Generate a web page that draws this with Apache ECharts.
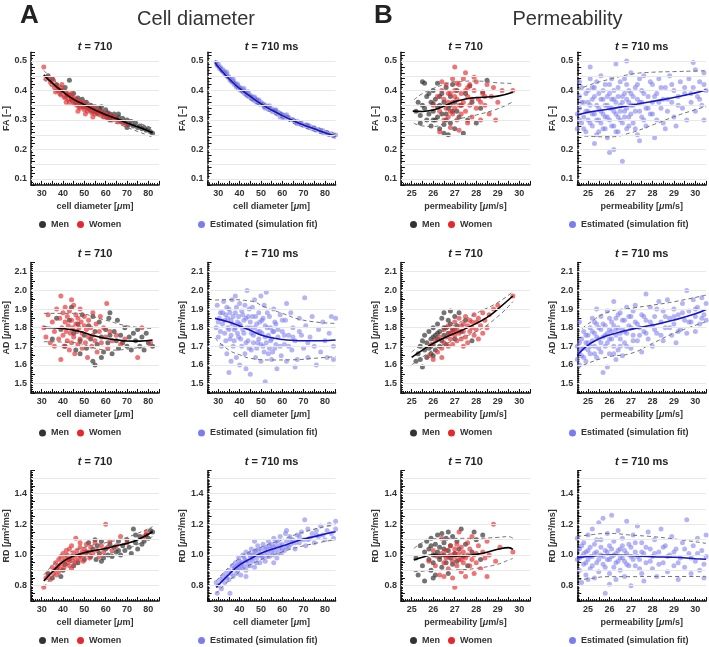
<!DOCTYPE html>
<html>
<head>
<meta charset="utf-8">
<script src="https://cdn.jsdelivr.net/npm/echarts/dist/echarts.min.js"></script>
<style>
html, body { margin: 0; padding: 0; background: #fff; }
#main { width: 709px; height: 647px; }
</style>
</head>
<body>
<div id="main"></div>
<script>
// ---------- FA vs cell diameter ----------
var fa_diam_men = [[33,0.45],[35,0.44],[37,0.42],[39,0.40],[41,0.41],[42,0.385],[43,0.435],[44,0.37],[45,0.39],[46,0.36],[47,0.375],[48,0.355],[49,0.37],[50,0.345],[51,0.36],[52,0.34],[53,0.35],[54,0.33],[55,0.345],[56,0.325],[57,0.34],[58,0.33],[59,0.32],[60,0.335],[60.5,0.31],[61,0.325],[62,0.32],[63,0.31],[64,0.32],[65,0.305],[66,0.31],[67,0.295],[68,0.305],[69,0.29],[70,0.30],[71,0.285],[72,0.295],[73,0.28],[74,0.29],[75,0.275],[76,0.28],[77,0.27],[78,0.275],[79,0.265],[80,0.27],[81,0.26],[82,0.255],[66,0.32],[62,0.30],[58,0.345],[70,0.275]];
var fa_diam_women = [[31,0.48],[32,0.44],[33,0.445],[34,0.43],[35,0.42],[35.5,0.435],[36,0.41],[37,0.415],[37.5,0.40],[38,0.405],[38.5,0.39],[39,0.41],[39,0.385],[40,0.40],[40.5,0.38],[41,0.395],[41,0.375],[42,0.39],[42.5,0.37],[43,0.385],[43,0.36],[44,0.38],[44.5,0.365],[45,0.375],[45,0.355],[46,0.37],[46.5,0.35],[47,0.365],[47.5,0.345],[48,0.36],[48,0.34],[49,0.355],[49.5,0.345],[50,0.36],[50,0.335],[51,0.35],[51.5,0.33],[52,0.345],[52.5,0.335],[53,0.34],[53.5,0.325],[54,0.345],[55,0.33],[55,0.32],[56,0.335],[56.5,0.32],[57,0.33],[58,0.315],[58.5,0.325],[59,0.31],[60,0.32],[61,0.305],[62,0.315],[63,0.30],[64,0.31],[65,0.30],[66,0.295],[68,0.29],[70,0.285],[44,0.39],[41.5,0.36],[47,0.33],[39.5,0.42],[36.5,0.395],[54,0.31],[50.5,0.32]];
var fa_diam_fit = [[31,0.453],[35,0.425],[40,0.395],[45,0.37],[50,0.352],[55,0.334],[60,0.318],[65,0.305],[70,0.29],[75,0.277],[82,0.257]];
var fa_diam_hi = [[31,0.468],[40,0.41],[50,0.367],[60,0.333],[70,0.305],[82,0.272]];
var fa_diam_lo = [[31,0.438],[40,0.38],[50,0.337],[60,0.303],[70,0.275],[82,0.242]];
var fa_diam_sim = [[29,0.495],[29.5,0.485],[30,0.49],[30.5,0.475],[31,0.48],[31.5,0.468],[32,0.472],[32.5,0.46],[33,0.465],[33.5,0.452],[34,0.455],[34.5,0.445],[35,0.447],[35.5,0.435],[36,0.44],[36.5,0.428],[37,0.432],[37.5,0.42],[38,0.425],[38.5,0.412],[39,0.418],[39.5,0.405],[40,0.412],[40.5,0.40],[41,0.406],[41.5,0.395],[42,0.40],[42.5,0.388],[43,0.394],[43.5,0.383],[44,0.39],[44.5,0.378],[45,0.384],[45.5,0.372],[46,0.379],[46.5,0.368],[47,0.374],[47.5,0.363],[48,0.37],[48.5,0.357],[49,0.365],[49.5,0.353],[50,0.36],[51,0.355],[51.5,0.345],[52,0.351],[53,0.347],[53.5,0.336],[54,0.342],[55,0.338],[55.5,0.328],[56,0.334],[57,0.331],[57.5,0.32],[58,0.326],[59,0.323],[60,0.319],[60.5,0.308],[61,0.316],[62,0.31],[63,0.309],[64,0.302],[65,0.302],[66,0.293],[67,0.296],[68,0.288],[69,0.29],[70,0.281],[71,0.284],[72,0.276],[73,0.279],[74,0.27],[75,0.274],[76,0.266],[77,0.269],[78,0.261],[79,0.264],[80,0.256],[81,0.258],[82,0.251],[83,0.253],[84,0.246],[85,0.249],[37,0.438],[42,0.408],[47,0.378],[52,0.34],[57,0.335],[62,0.318],[67,0.287],[72,0.283],[34,0.462],[39,0.422],[44,0.396],[49,0.368],[54,0.348],[59,0.31]];
var fa_diam_sim_fit = [[28.5,0.495],[30,0.48],[35,0.44],[40,0.407],[45,0.38],[50,0.355],[55,0.334],[60,0.315],[65,0.298],[70,0.283],[75,0.27],[80,0.257],[85,0.246]];
var fa_diam_sim_hi = [[28.5,0.503],[40,0.415],[50,0.363],[60,0.323],[70,0.291],[85,0.254]];
var fa_diam_sim_lo = [[28.5,0.487],[40,0.399],[50,0.347],[60,0.307],[70,0.275],[85,0.238]];

// ---------- FA vs permeability ----------
var fa_perm_men = [[25.2,0.33],[25.3,0.36],[25.4,0.29],[25.5,0.43],[25.6,0.34],[25.7,0.38],[25.7,0.30],[25.8,0.32],[25.9,0.36],[25.9,0.28],[26,0.40],[26,0.33],[26.1,0.30],[26.1,0.37],[26.2,0.425],[26.2,0.31],[26.3,0.35],[26.3,0.27],[26.4,0.39],[26.4,0.32],[26.5,0.255],[26.5,0.36],[26.6,0.30],[26.6,0.41],[26.7,0.34],[26.7,0.25],[26.8,0.38],[26.8,0.29],[26.9,0.33],[27,0.36],[27,0.27],[27.1,0.40],[27.2,0.31],[27.3,0.35],[27.4,0.255],[27.5,0.39],[27.6,0.30],[27.8,0.36],[28,0.29],[28.2,0.34],[28.5,0.435],[28.3,0.395],[25.6,0.425],[26.9,0.42],[27.7,0.415],[26.5,0.285],[25.4,0.315],[26.0,0.355],[25.8,0.39],[26.2,0.345],[26.6,0.32],[26.0,0.30],[25.5,0.35],[26.8,0.35],[27.1,0.33],[26.3,0.38]];
var fa_perm_women = [[26,0.35],[26.2,0.38],[26.3,0.33],[26.4,0.40],[26.5,0.30],[26.5,0.37],[26.6,0.34],[26.6,0.42],[26.7,0.36],[26.7,0.31],[26.8,0.39],[26.8,0.33],[26.9,0.44],[26.9,0.36],[27,0.48],[27,0.34],[27,0.40],[27.1,0.30],[27.1,0.37],[27.2,0.42],[27.2,0.35],[27.3,0.39],[27.3,0.32],[27.4,0.44],[27.4,0.36],[27.5,0.40],[27.5,0.33],[27.6,0.38],[27.6,0.29],[27.7,0.42],[27.7,0.35],[27.8,0.37],[27.8,0.31],[27.9,0.40],[28,0.34],[28,0.43],[28.1,0.37],[28.2,0.30],[28.3,0.39],[28.4,0.35],[28.5,0.42],[28.6,0.32],[28.7,0.38],[28.9,0.30],[29,0.36],[29.2,0.40],[29.7,0.40],[26.3,0.26],[27.2,0.265],[26.8,0.275],[27.9,0.445],[28.8,0.41],[26.4,0.43],[27.5,0.46],[27.0,0.38],[27.3,0.35],[26.9,0.32],[27.6,0.41],[28.2,0.36],[27.1,0.425],[26.7,0.39],[28.4,0.38]];
var fa_perm_fit = [[25.05,0.33],[25.5,0.329],[26,0.334],[26.5,0.347],[27,0.362],[27.5,0.371],[28,0.376],[28.5,0.378],[29,0.381],[29.7,0.394]];
var fa_perm_hi = [[25.1,0.368],[25.5,0.39],[26,0.407],[26.5,0.42],[27,0.43],[28,0.432],[29,0.426],[29.7,0.424]];
var fa_perm_lo = [[25.1,0.289],[25.5,0.28],[26,0.278],[26.5,0.287],[27,0.30],[28,0.317],[29,0.338],[29.7,0.362]];
var fa_perm_sim = [[24.5,0.32],[24.5,0.27],[24.6,0.38],[24.6,0.34],[24.7,0.29],[24.7,0.41],[24.8,0.31],[24.8,0.36],[24.9,0.26],[24.9,0.33],[25,0.40],[25,0.30],[25.1,0.35],[25.1,0.44],[25.2,0.28],[25.2,0.37],[25.3,0.32],[25.3,0.41],[25.4,0.25],[25.4,0.35],[25.5,0.30],[25.5,0.39],[25.6,0.45],[25.6,0.33],[25.7,0.27],[25.7,0.37],[25.8,0.31],[25.8,0.42],[25.9,0.35],[25.9,0.24],[26,0.39],[26,0.30],[26,0.19],[26.1,0.34],[26.1,0.44],[26.2,0.28],[26.2,0.37],[26.3,0.32],[26.3,0.49],[26.4,0.41],[26.4,0.26],[26.5,0.35],[26.5,0.30],[26.6,0.38],[26.6,0.16],[26.7,0.33],[26.7,0.44],[26.8,0.27],[26.8,0.37],[26.9,0.31],[26.9,0.40],[27,0.35],[27,0.46],[27.1,0.29],[27.1,0.38],[27.2,0.33],[27.3,0.42],[27.3,0.25],[27.4,0.36],[27.5,0.31],[27.5,0.40],[27.6,0.45],[27.7,0.34],[27.7,0.28],[27.8,0.38],[27.9,0.32],[28,0.42],[28,0.36],[28.1,0.24],[28.2,0.30],[28.2,0.39],[28.3,0.44],[28.4,0.34],[28.5,0.37],[28.5,0.29],[28.6,0.41],[28.7,0.33],[28.8,0.45],[28.9,0.36],[29,0.31],[29,0.40],[29.1,0.28],[29.2,0.38],[29.3,0.43],[29.4,0.34],[29.5,0.39],[29.6,0.30],[29.7,0.44],[29.8,0.36],[29.9,0.41],[30,0.33],[30,0.47],[30.1,0.38],[30.2,0.43],[30.3,0.35],[30.4,0.30],[30.4,0.46],[30.5,0.40],[24.6,0.43],[25.3,0.22],[26.2,0.20],[25.1,0.48],[26.8,0.50],[29.9,0.495],[27.4,0.23],[28.6,0.27],
  [24.6,0.30],[24.7,0.36],[24.8,0.27],[24.9,0.39],[25,0.33],[25,0.36],[25.1,0.29],[25.2,0.41],[25.2,0.32],[25.3,0.38],[25.4,0.30],[25.4,0.43],[25.5,0.34],[25.5,0.26],[25.6,0.37],[25.6,0.29],[25.7,0.40],[25.7,0.32],[25.8,0.35],[25.8,0.27],[25.9,0.38],[25.9,0.31],[26,0.42],[26,0.34],[26.1,0.28],[26.1,0.37],[26.2,0.40],[26.2,0.33],[26.3,0.36],[26.3,0.26],[26.4,0.38],[26.4,0.31],[26.5,0.43],[26.5,0.33],[26.6,0.29],[26.6,0.36],[26.7,0.39],[26.7,0.31],[26.8,0.34],[26.8,0.42],[26.9,0.28],[26.9,0.36],[27,0.32],[27,0.39],[27.1,0.35],[27.2,0.41],[27.2,0.27],[27.3,0.37],[27.4,0.33],[27.4,0.44],[27.5,0.36],[27.6,0.30],[27.6,0.39],[27.8,0.34],[27.9,0.43],[28,0.32],[28.1,0.38],[28.3,0.36],[28.4,0.41],[28.7,0.37],[28.9,0.42],[29.2,0.35],[29.5,0.41],[29.8,0.39],[30.2,0.37],[30.4,0.42]];
var fa_perm_sim_fit = [[24.5,0.317],[25,0.326],[26,0.337],[27,0.35],[28,0.363],[29,0.376],[30,0.392],[30.5,0.402]];
var fa_perm_sim_hi = [[24.5,0.40],[25,0.417],[26,0.438],[27,0.455],[28,0.462],[29,0.464],[30,0.466],[30.5,0.467]];
var fa_perm_sim_lo = [[24.5,0.249],[25,0.245],[26,0.243],[27,0.257],[28,0.283],[29,0.311],[30,0.335],[30.5,0.345]];

// ---------- AD vs cell diameter ----------
var ad_diam_men = [[35,1.74],[37,1.85],[39,1.79],[41,1.70],[43,1.84],[44,1.91],[45,1.77],[46,1.68],[47,1.82],[48,1.73],[49,1.87],[50,1.76],[51,1.69],[52,1.81],[53,1.74],[54,1.86],[55,1.60],[55,1.78],[56,1.71],[57,1.83],[58,1.75],[59,1.67],[60,1.79],[61,1.72],[61.5,1.85],[62,1.76],[63,1.66],[64,1.78],[65,1.73],[65.5,1.84],[66,1.69],[67,1.76],[68,1.72],[69,1.80],[70,1.70],[71,1.75],[72,1.68],[73,1.77],[74,1.73],[75,1.79],[76,1.70],[77,1.75],[78,1.68],[79,1.77],[80,1.72],[82,1.70],[58,1.64],[54,1.62],[62,1.88],[48,1.66]];
var ad_diam_women = [[31,1.80],[32,1.75],[33,1.87],[34,1.72],[35,1.83],[36,1.78],[37,1.90],[38,1.74],[38.5,1.85],[39,1.97],[39,1.63],[39.5,1.80],[40,1.76],[40,1.88],[40.5,1.70],[41,1.83],[41,1.91],[41.5,1.78],[42,1.73],[42,1.86],[42.5,1.81],[43,1.68],[43,1.89],[43.5,1.77],[44,1.84],[44,1.72],[44.5,1.80],[45,1.92],[45,1.75],[45.5,1.66],[46,1.82],[46,1.87],[46.5,1.78],[47,1.71],[47,1.85],[47.5,1.80],[48,1.74],[48,1.90],[48.5,1.83],[49,1.69],[49,1.77],[50,1.81],[50,1.86],[50.5,1.72],[51,1.79],[51.5,1.64],[52,1.84],[52,1.75],[53,1.80],[53.5,1.70],[54,1.88],[54,1.76],[55,1.73],[55.5,1.82],[56,1.67],[57,1.78],[57.5,1.86],[58,1.72],[59,1.80],[60,1.75],[60.5,1.93],[61,1.69],[62,1.78],[63,1.73],[65,1.76],[67,1.71],[69,1.74],[75,1.64],[77,1.80],[81,1.72],[36,1.70],[44,1.95]];
var ad_diam_fit = [[31,1.802],[35,1.80],[40,1.796],[45,1.787],[50,1.773],[55,1.755],[60,1.743],[65,1.735],[70,1.729],[76,1.728],[82,1.734]];
var ad_diam_hi = [[31,1.877],[45,1.877],[60,1.84],[70,1.81],[82,1.796]];
var ad_diam_lo = [[31,1.725],[45,1.72],[55,1.69],[62,1.68],[70,1.685],[82,1.707]];
var ad_diam_sim = [[29,1.80],[29.5,1.92],[30,1.75],[30.5,1.85],[31,1.88],[31.5,1.70],[32,1.82],[32.5,1.94],[33,1.77],[33.5,1.87],[34,1.66],[34.5,1.80],[35,1.90],[35,1.56],[35.5,1.74],[36,1.84],[36.5,1.95],[37,1.70],[37.5,1.79],[38,1.88],[38.5,1.64],[39,1.83],[39.5,1.75],[40,1.93],[40,1.60],[40.5,1.81],[41,1.70],[41.5,1.87],[42,1.77],[42.5,1.66],[43,1.85],[43.5,2.0],[44,1.73],[44.5,1.90],[45,1.80],[45,1.55],[45.5,1.68],[46,1.86],[46.5,1.76],[47,1.95],[47.5,1.64],[48,1.82],[48.5,1.72],[49,1.88],[49.5,1.78],[50,1.62],[50.5,1.84],[51,1.70],[51.5,1.92],[52,1.75],[52,1.51],[52.5,1.99],[53,1.80],[53.5,1.66],[54,1.86],[54.5,1.73],[55,1.63],[55.5,1.78],[56,1.90],[56.5,1.69],[57,1.82],[57.5,1.58],[58,1.75],[59,1.87],[59.5,1.65],[60,1.78],[61,1.71],[61.5,1.84],[62,1.62],[63,1.76],[64,1.88],[64.5,1.68],[65,1.80],[66,1.73],[67,1.63],[68,1.85],[69,1.76],[70,1.69],[70.5,1.96],[71,1.81],[72,1.64],[73,1.75],[74,1.86],[75,1.70],[76,1.60],[77,1.79],[78,1.67],[79,1.83],[80,1.73],[81,1.64],[82,1.77],[83,1.86],[84,1.70],[85,1.85],[84,1.63],[36,1.62],[43,1.58],[38,1.97],[50,1.97],[62,1.93],[66,1.59],
  [30,1.83],[31,1.78],[32,1.88],[33,1.84],[33.5,1.73],[34,1.91],[34.5,1.85],[35,1.79],[35.5,1.88],[36,1.76],[36.5,1.82],[37,1.86],[37.5,1.73],[38,1.80],[38.5,1.91],[39,1.77],[39.5,1.86],[40,1.82],[40.5,1.74],[41,1.89],[41.5,1.79],[42,1.84],[42.5,1.92],[43,1.72],[43.5,1.80],[44,1.86],[44.5,1.69],[45,1.83],[45.5,1.77],[46,1.91],[46.5,1.72],[47,1.80],[47.5,1.86],[48,1.69],[48.5,1.78],[49,1.74],[49.5,1.83],[50,1.71],[50.5,1.77],[51,1.85],[51.5,1.67],[52,1.81],[52.5,1.72],[53,1.88],[53.5,1.76],[54,1.69],[54.5,1.80],[55,1.74],[55.5,1.67],[56,1.78],[56.5,1.83],[57,1.71],[58,1.79],[59,1.70],[60,1.84],[61,1.76],[63,1.70],[65,1.75],[68,1.78],[72,1.72]];
var ad_diam_sim_fit = [[28.5,1.85],[35,1.83],[40,1.809],[45,1.786],[50,1.761],[55,1.746],[60,1.737],[65,1.732],[70,1.73],[78,1.73],[85,1.734]];
var ad_diam_sim_hi = [[28.5,1.948],[35,1.95],[45,1.943],[52,1.91],[60,1.877],[70,1.84],[85,1.823]];
var ad_diam_sim_lo = [[28.5,1.743],[35,1.68],[40,1.655],[45,1.636],[55,1.627],[65,1.628],[75,1.636],[85,1.645]];

// ---------- AD vs permeability ----------
var ad_perm_men = [[25.2,1.62],[25.3,1.66],[25.4,1.70],[25.5,1.59],[25.5,1.73],[25.6,1.68],[25.6,1.76],[25.7,1.64],[25.7,1.72],[25.8,1.78],[25.8,1.69],[25.9,1.74],[25.9,1.66],[26,1.80],[26,1.71],[26.1,1.76],[26.1,1.68],[26.2,1.74],[26.2,1.82],[26.3,1.70],[26.3,1.78],[26.4,1.85],[26.4,1.73],[26.5,1.76],[26.5,1.88],[26.6,1.80],[26.6,1.71],[26.7,1.84],[26.7,1.77],[26.8,1.89],[26.9,1.79],[27,1.86],[27,1.74],[27.1,1.81],[27.2,1.88],[27.3,1.78],[27.5,1.84],[27.8,1.73],[25.4,1.63],[26.0,1.65],[26.8,1.82],[25.9,1.70],[26.2,1.77],[26.5,1.80],[26.0,1.75]];
var ad_perm_women = [[25.8,1.65],[25.9,1.71],[26,1.63],[26.1,1.73],[26.2,1.67],[26.3,1.75],[26.4,1.69],[26.5,1.79],[26.5,1.72],[26.6,1.75],[26.7,1.70],[26.7,1.81],[26.8,1.74],[26.9,1.78],[26.9,1.71],[27,1.83],[27,1.76],[27.1,1.73],[27.1,1.79],[27.2,1.85],[27.2,1.77],[27.3,1.74],[27.3,1.81],[27.4,1.78],[27.5,1.86],[27.5,1.75],[27.6,1.81],[27.6,1.72],[27.7,1.84],[27.7,1.78],[27.8,1.80],[27.9,1.87],[27.9,1.76],[28,1.83],[28,1.79],[28.1,1.85],[28.2,1.81],[28.3,1.77],[28.3,1.88],[28.4,1.84],[28.5,1.80],[28.6,1.87],[28.8,1.90],[29,1.92],[29.7,1.97],[26.4,1.64],[27.4,1.70],[28.1,1.74],[27.0,1.79],[27.4,1.82],[26.8,1.77],[27.8,1.83]];
var ad_perm_fit = [[25,1.641],[25.5,1.68],[26,1.716],[26.5,1.745],[27,1.77],[27.5,1.795],[28,1.823],[28.5,1.855],[29,1.90],[29.7,1.97]];
var ad_perm_hi = [[25,1.67],[26,1.752],[27,1.814],[28,1.877],[29,1.935],[29.7,1.993]];
var ad_perm_lo = [[25,1.60],[26,1.68],[27,1.734],[28,1.779],[29,1.86],[29.7,1.94]];
var ad_perm_sim = [[24.5,1.63],[24.5,1.70],[24.6,1.60],[24.6,1.67],[24.7,1.74],[24.7,1.65],[24.8,1.69],[24.8,1.78],[24.9,1.62],[24.9,1.72],[25,1.68],[25,1.76],[25.1,1.80],[25.1,1.66],[25.2,1.73],[25.2,1.85],[25.3,1.70],[25.3,1.77],[25.4,1.64],[25.4,1.82],[25.5,1.74],[25.5,1.69],[25.6,1.79],[25.6,1.86],[25.7,1.56],[25.7,1.75],[25.8,1.81],[25.8,1.70],[25.9,1.77],[25.9,1.89],[26,1.66],[26,1.74],[26.1,1.83],[26.1,1.78],[26.2,1.70],[26.2,1.94],[26.3,1.76],[26.3,1.85],[26.4,1.68],[26.4,1.80],[26.5,1.74],[26.5,1.88],[26.6,1.79],[26.6,1.65],[26.7,1.84],[26.7,1.72],[26.8,1.91],[26.8,1.77],[26.9,1.81],[27,1.69],[27,1.86],[27.1,1.76],[27.2,1.83],[27.2,1.92],[27.3,1.73],[27.4,1.80],[27.5,1.87],[27.5,1.67],[27.6,1.78],[27.7,1.84],[27.8,1.74],[27.9,1.91],[28,1.81],[28,1.70],[28.1,1.86],[28.2,1.77],[28.3,1.94],[28.4,1.83],[28.5,1.73],[28.5,1.89],[28.6,1.80],[28.7,1.95],[28.8,1.85],[28.9,1.76],[29,1.90],[29,1.82],[29.1,1.72],[29.2,1.87],[29.3,1.79],[29.4,1.93],[29.5,1.84],[29.6,2.0],[29.6,1.77],[29.7,1.89],[29.8,1.83],[29.9,1.95],[30,1.86],[30,1.78],[30.1,1.91],[30.2,1.82],[30.3,1.96],[30.4,1.87],[30.5,1.93],[30.5,1.84],[25.9,1.59],[26.3,1.63],[27.7,1.98],[25.4,1.90],[24.6,1.83],
  [24.6,1.72],[24.7,1.69],[24.8,1.64],[24.9,1.76],[25,1.72],[25.1,1.70],[25.2,1.78],[25.3,1.66],[25.3,1.83],[25.4,1.75],[25.5,1.80],[25.6,1.72],[25.6,1.67],[25.7,1.82],[25.8,1.76],[25.9,1.72],[26,1.79],[26,1.85],[26.1,1.74],[26.2,1.81],[26.2,1.66],[26.3,1.79],[26.4,1.87],[26.5,1.77],[26.5,1.70],[26.6,1.84],[26.7,1.78],[26.8,1.70],[26.9,1.86],[27,1.80],[27.1,1.73],[27.1,1.89],[27.3,1.82],[27.4,1.76],[27.6,1.86],[27.7,1.77],[27.9,1.83],[28.1,1.79],[28.2,1.90],[28.4,1.76],[28.6,1.86],[28.8,1.80],[29,1.86],[29.2,1.78],[29.4,1.88],[29.7,1.83],[30,1.90],[30.3,1.85]];
var ad_perm_sim_fit = [[24.5,1.654],[25,1.707],[25.5,1.74],[26,1.761],[27,1.791],[28,1.814],[29,1.841],[30,1.875],[30.5,1.898]];
var ad_perm_sim_hi = [[24.5,1.77],[25,1.82],[26,1.886],[27,1.904],[28,1.921],[29,1.939],[30.5,1.975]];
var ad_perm_sim_lo = [[24.5,1.582],[25,1.61],[26,1.645],[27,1.662],[28,1.716],[29,1.77],[30.5,1.832]];

// ---------- RD vs cell diameter ----------
var rd_diam_men = [[33,0.88],[35,0.85],[37,0.91],[39,0.86],[40,0.90],[41,0.94],[43,0.97],[45,0.93],[47,0.95],[48,1.0],[50,0.97],[51,1.02],[52,1.08],[53,0.99],[54,1.04],[55,1.10],[55.5,0.97],[56,1.06],[57,1.01],[58,1.09],[59,0.98],[60,1.04],[61,1.0],[62,1.07],[63,0.99],[64,1.05],[65,1.02],[66,1.09],[67,1.0],[68,1.06],[69,1.03],[70,1.10],[71,1.05],[72,1.01],[73,1.17],[74,1.08],[75,1.04],[76,1.12],[77,1.07],[78,1.09],[79,1.13],[80,1.11],[81,1.16],[82,1.15],[66,1.03],[58,0.96],[74,1.13]];
var rd_diam_women = [[31,0.79],[32,0.85],[33,0.87],[34,0.84],[35,0.92],[35.5,0.88],[36,0.90],[36.5,0.95],[37,0.87],[37.5,0.93],[38,0.97],[38.5,0.91],[39,0.99],[39,0.94],[40,0.96],[40,1.01],[40.5,0.92],[41,0.98],[41.5,1.03],[42,0.95],[42,1.0],[42.5,0.97],[43,1.04],[43,0.93],[44,0.99],[44,1.06],[44.5,0.96],[45,1.01],[45.5,0.98],[46,1.11],[46,0.95],[46.5,1.03],[47,1.0],[47.5,0.97],[48,1.05],[48,1.08],[48.5,0.99],[49,1.02],[49.5,0.96],[50,1.04],[50.5,1.0],[51,1.07],[52,1.02],[52.5,0.98],[53,1.05],[54,1.01],[55,1.08],[56,1.03],[57,0.99],[58,1.06],[59,1.02],[60,1.20],[61,1.05],[62,1.09],[63,1.03],[65,1.06],[67,1.12],[70,1.08],[78,1.12],[79,1.15],[38,0.89],[44,0.91]];
var rd_diam_fit = [[31,0.83],[35,0.891],[40,0.957],[45,0.993],[50,1.015],[55,1.03],[60,1.043],[65,1.06],[70,1.076],[75,1.10],[82,1.152]];
var rd_diam_hi = [[31,0.87],[40,0.99],[50,1.05],[60,1.08],[70,1.115],[82,1.185]];
var rd_diam_lo = [[31,0.79],[40,0.92],[50,0.98],[60,1.005],[70,1.04],[82,1.12]];
var rd_diam_sim = [[29,0.82],[29.5,0.75],[30,0.80],[31,0.84],[31.5,0.78],[32,0.86],[33,0.82],[33.5,0.88],[34,0.85],[35,0.90],[35,0.84],[35.5,0.75],[36,0.88],[36.5,0.93],[37,0.86],[37.5,0.91],[38,0.95],[38.5,0.88],[39,0.93],[39.5,0.98],[40,0.91],[40,0.96],[40.5,0.87],[41,0.95],[41.5,1.0],[42,0.93],[42.5,0.97],[43,1.02],[43,0.90],[44,0.96],[44.5,1.01],[45,0.93],[45,0.98],[45.5,1.04],[46,0.96],[46.5,1.0],[47,0.92],[47.5,1.03],[48,0.98],[48.5,1.06],[49,1.0],[49.5,0.95],[50,1.04],[50.5,0.99],[51,1.07],[51.5,1.01],[52,0.96],[52.5,1.05],[53,1.02],[53.5,1.09],[54,0.99],[54.5,1.04],[55,1.07],[55.5,1.0],[56,1.11],[56.5,1.03],[57,1.06],[57.5,0.98],[58,1.09],[58.5,1.04],[59,1.12],[59.5,1.01],[60,1.07],[61,1.03],[61.5,1.14],[62,1.09],[63,1.05],[63.5,1.12],[64,1.07],[65,1.10],[66,1.04],[67,1.13],[68,1.08],[69,1.15],[70,1.10],[70.5,1.23],[71,1.06],[72,1.17],[73,1.11],[74,1.14],[75,1.08],[76,1.16],[77,1.12],[78,1.19],[79,1.13],[80,1.10],[81,1.16],[82,1.20],[83,1.14],[84,1.11],[85,1.22],[85,1.17],[56,0.95],[62,1.16],[47,1.09],[43,0.86],
  [38,0.92],[39,0.90],[40,0.94],[41,0.92],[42,0.99],[43,0.96],[44,0.93],[45,1.0],[46,0.98],[47,1.02],[48,0.95],[49,1.03],[50,1.0],[51,0.98],[52,1.04],[53,0.99],[54,1.06],[55,1.02],[56,1.05],[57,1.09],[58,1.01],[59,1.06],[60,1.04],[62,1.05],[64,1.10],[66,1.08],[68,1.12],[72,1.10],[76,1.13]];
var rd_diam_sim_fit = [[29,0.789],[35,0.874],[40,0.935],[45,0.975],[50,1.011],[55,1.037],[60,1.059],[65,1.082],[70,1.104],[75,1.12],[80,1.137],[85,1.152]];
var rd_diam_sim_hi = [[29,0.83],[40,0.98],[50,1.05],[60,1.10],[70,1.15],[85,1.20]];
var rd_diam_sim_lo = [[29,0.75],[40,0.89],[50,0.97],[60,1.02],[70,1.06],[85,1.10]];

// ---------- RD vs permeability ----------
var rd_perm_men = [[25.2,0.98],[25.4,1.06],[25.5,0.93],[25.6,1.02],[25.6,0.83],[25.7,1.09],[25.8,0.97],[25.8,1.04],[25.9,0.90],[25.9,1.11],[26,1.0],[26,0.95],[26.1,1.07],[26.1,0.87],[26.2,1.02],[26.2,1.13],[26.3,0.97],[26.3,1.05],[26.4,0.92],[26.4,1.14],[26.5,1.0],[26.5,1.08],[26.6,0.95],[26.6,1.11],[26.7,1.03],[26.7,0.88],[26.8,0.98],[26.8,1.06],[26.9,1.12],[26.9,0.94],[27,1.01],[27.1,1.09],[27.1,0.96],[27.2,1.04],[27.3,1.17],[27.4,0.99],[27.5,1.07],[27.6,0.93],[27.8,1.02],[28,1.10],[28.2,0.97],[28.3,1.13],[25.3,0.87],[26.0,0.85],[26.7,1.15],[27.9,1.15],[26.1,1.0],[26.5,1.04],[25.9,1.06],[26.3,0.99]];
var rd_perm_women = [[25.8,0.96],[26,1.03],[26.1,0.93],[26.2,0.99],[26.3,0.87],[26.4,1.01],[26.5,0.95],[26.5,0.86],[26.6,1.03],[26.6,0.98],[26.7,0.91],[26.8,1.06],[26.8,1.0],[26.9,0.85],[26.9,0.96],[27,1.04],[27,0.99],[27,0.79],[27.1,0.93],[27.1,1.07],[27.2,0.97],[27.2,1.01],[27.3,0.89],[27.3,1.05],[27.4,0.95],[27.4,1.02],[27.5,0.86],[27.5,0.98],[27.6,1.08],[27.6,1.0],[27.7,0.93],[27.7,1.04],[27.8,0.97],[27.8,1.12],[27.9,0.88],[28,1.01],[28,0.95],[28.1,1.06],[28.2,0.91],[28.3,1.02],[28.4,0.98],[28.5,1.09],[28.5,0.86],[28.6,1.0],[28.8,1.20],[28.9,0.96],[29.1,1.05],[29.7,1.02],[27.2,1.15],[26.4,1.11],[27.0,1.01],[27.3,0.97],[26.7,0.99],[27.9,1.0]];
var rd_perm_fit = [[25.1,0.967],[25.5,0.985],[26,1.0],[26.5,0.997],[27,0.993],[27.5,0.995],[28,1.004],[28.5,1.018],[29,1.037],[29.5,1.048],[29.7,1.037]];
var rd_perm_hi = [[25.1,1.043],[25.5,1.08],[26,1.105],[27,1.109],[28,1.109],[29,1.115],[29.5,1.12],[29.7,1.109]];
var rd_perm_lo = [[25.1,0.891],[26,0.898],[27,0.902],[28,0.913],[29,0.94],[29.5,0.967],[29.7,0.978]];
var rd_perm_sim = [[24.5,0.97],[24.5,1.11],[24.6,0.90],[24.6,1.04],[24.7,0.82],[24.7,0.99],[24.8,1.08],[24.8,0.94],[24.9,1.02],[24.9,0.87],[25,1.13],[25,0.97],[25.1,1.05],[25.1,0.91],[25.2,1.17],[25.2,0.99],[25.3,0.85],[25.3,1.07],[25.4,0.95],[25.4,1.02],[25.5,1.21],[25.5,0.89],[25.6,1.0],[25.6,1.10],[25.7,0.94],[25.7,1.24],[25.8,0.75],[25.8,1.03],[25.9,0.97],[25.9,1.14],[26,0.88],[26,1.06],[26.1,1.26],[26.1,0.99],[26.2,0.92],[26.2,1.09],[26.3,1.01],[26.3,0.84],[26.4,1.16],[26.4,0.96],[26.5,1.04],[26.5,0.90],[26.6,1.11],[26.6,0.98],[26.7,0.86],[26.7,1.03],[26.8,1.22],[26.8,0.94],[26.9,1.07],[27,0.99],[27,0.80],[27.1,1.13],[27.2,0.93],[27.2,1.02],[27.3,1.19],[27.4,0.97],[27.5,1.08],[27.5,0.88],[27.6,1.01],[27.7,0.95],[27.8,1.15],[27.9,1.04],[28,0.91],[28,0.99],[28.1,1.10],[28.2,0.86],[28.3,1.02],[28.4,1.17],[28.5,0.95],[28.6,1.06],[28.7,0.89],[28.8,1.0],[28.9,1.12],[29,0.93],[29.1,1.04],[29.2,0.84],[29.3,0.98],[29.4,1.08],[29.5,0.92],[29.6,1.23],[29.7,1.01],[29.8,0.88],[29.9,1.06],[30,0.96],[30.1,1.11],[30.2,0.90],[30.3,1.03],[30.4,0.85],[30.5,0.99],[30.5,1.13],[26.0,0.81],[27.6,0.83],[25.0,0.84],
  [24.6,0.98],[24.7,1.06],[24.8,1.01],[24.9,0.95],[25,1.03],[25.1,0.99],[25.2,0.93],[25.3,1.01],[25.4,1.10],[25.5,0.97],[25.6,1.05],[25.7,0.99],[25.8,0.92],[25.9,1.02],[26,0.97],[26.1,1.04],[26.2,1.0],[26.3,0.95],[26.4,1.03],[26.5,0.98],[26.6,1.06],[26.7,0.96],[26.8,1.01],[26.9,0.93],[27,1.05],[27.1,0.97],[27.2,1.08],[27.3,0.99],[27.4,0.91],[27.5,1.02],[27.7,1.05],[27.9,0.96],[28.1,1.01],[28.3,0.94],[28.5,1.05],[28.7,0.99],[29,1.02],[29.2,0.95],[29.5,1.04],[29.8,0.98],[30.1,1.01],[30.4,0.94]];
var rd_perm_sim_fit = [[24.5,0.983],[25,0.99],[26,1.0],[27,0.996],[28,0.989],[29,0.985],[30,0.976],[30.5,0.972]];
var rd_perm_sim_hi = [[24.5,1.12],[25,1.13],[26,1.141],[27,1.13],[28,1.12],[29,1.105],[30.5,1.076]];
var rd_perm_sim_lo = [[24.5,0.837],[25,0.845],[26,0.859],[27,0.859],[28,0.86],[29,0.86],[30.5,0.859]];

// gridline values per row
var gridFA = [0.1,0.15,0.2,0.25,0.3,0.35,0.4,0.45,0.5];
var gridAD = [1.5,1.6,1.7,1.8,1.9,2.0,2.1];
var gridRD = [0.8,0.9,1.0,1.1,1.2,1.3,1.4,1.5];

var panels = [
  {r:0,c:0,men:fa_diam_men,women:fa_diam_women,fit:fa_diam_fit,hi:fa_diam_hi,lo:fa_diam_lo},
  {r:0,c:1,sim:fa_diam_sim,fit:fa_diam_sim_fit,hi:fa_diam_sim_hi,lo:fa_diam_sim_lo},
  {r:0,c:2,men:fa_perm_men,women:fa_perm_women,fit:fa_perm_fit,hi:fa_perm_hi,lo:fa_perm_lo},
  {r:0,c:3,sim:fa_perm_sim,fit:fa_perm_sim_fit,hi:fa_perm_sim_hi,lo:fa_perm_sim_lo},
  {r:1,c:0,men:ad_diam_men,women:ad_diam_women,fit:ad_diam_fit,hi:ad_diam_hi,lo:ad_diam_lo},
  {r:1,c:1,sim:ad_diam_sim,fit:ad_diam_sim_fit,hi:ad_diam_sim_hi,lo:ad_diam_sim_lo},
  {r:1,c:2,men:ad_perm_men,women:ad_perm_women,fit:ad_perm_fit,hi:ad_perm_hi,lo:ad_perm_lo},
  {r:1,c:3,sim:ad_perm_sim,fit:ad_perm_sim_fit,hi:ad_perm_sim_hi,lo:ad_perm_sim_lo},
  {r:2,c:0,men:rd_diam_men,women:rd_diam_women,fit:rd_diam_fit,hi:rd_diam_hi,lo:rd_diam_lo},
  {r:2,c:1,sim:rd_diam_sim,fit:rd_diam_sim_fit,hi:rd_diam_sim_hi,lo:rd_diam_sim_lo},
  {r:2,c:2,men:rd_perm_men,women:rd_perm_women,fit:rd_perm_fit,hi:rd_perm_hi,lo:rd_perm_lo},
  {r:2,c:3,sim:rd_perm_sim,fit:rd_perm_sim_fit,hi:rd_perm_sim_hi,lo:rd_perm_sim_lo}
];

var colLeft = [31, 207.6, 400.9, 577.3], colWidth = [128, 128, 129.2, 128.8];
var rowTop = [52.15, 262.4, 470.7], rowHeight = [132.75, 130.6, 130.3];
var titleTop = [41, 248.5, 456.5];
var legendTop = [220, 428.5, 636];
var legendLeft = [39, 198, 410, 569];

var yCfg = [
  {name:'FA [–]', min:0.08, max:0.53, interval:0.02, minor:2, step:0.1, grid:gridFA},
  {name:'AD [{i|μ}m²/ms]', min:1.45, max:2.15, interval:0.05, minor:5, step:0.1, grid:gridAD},
  {name:'RD [{i|μ}m²/ms]', min:0.70, max:1.55, interval:0.05, minor:5, step:0.2, grid:gridRD}
];
var xCfg = [
  {name:'cell diameter [{i|μ}m]', min:25, max:85, interval:5, minor:5, step:10},
  {name:'permeability [{i|μ}m/s]', min:24.5, max:30.5, interval:0.5, minor:5, step:1}
];

var txt = '#333';
var rich = {i:{fontStyle:'italic', fontWeight:'bold', fontSize:9, color:txt}};
function onStep(v, step) {
  var k = v / step;
  return Math.abs(k - Math.round(k)) < 1e-6;
}

var grids = [], xAxes = [], yAxes = [], series = [], legends = [], titles = [];

titles.push({text:'A', left:20, top:3, padding:0, textStyle:{fontSize:26, fontWeight:'bold', color:'#222'}});
titles.push({text:'Cell diameter', left:196, top:9, padding:0, textAlign:'center', textStyle:{fontSize:20, fontWeight:'normal', color:'#333'}});
titles.push({text:'B', left:374, top:3, padding:0, textStyle:{fontSize:26, fontWeight:'bold', color:'#222'}});
titles.push({text:'Permeability', left:567.5, top:9, padding:0, textAlign:'center', textStyle:{fontSize:20, fontWeight:'normal', color:'#333'}});

panels.forEach(function (p, i) {
  var yc = yCfg[p.r], xc = xCfg[p.c < 2 ? 0 : 1], isSim = !!p.sim;
  grids.push({left:colLeft[p.c], top:rowTop[p.r], width:colWidth[p.c], height:rowHeight[p.r], containLabel:false, outerBoundsMode:'none'});
  xAxes.push({
    gridIndex:i, type:'value', min:xc.min, max:xc.max, interval:xc.interval,
    name:xc.name, nameLocation:'middle', nameGap:17,
    nameTextStyle:{fontSize:9, fontWeight:'bold', color:txt, rich:rich},
    axisLine:{show:true, onZero:false, lineStyle:{color:'#111', width:1.5}},
    axisTick:{show:true, inside:true, length:4, lineStyle:{color:'#111'}},
    minorTick:{show:true, splitNumber:xc.minor, length:2, lineStyle:{color:'#111'}},
    splitLine:{show:false},
    axisLabel:{margin:4, fontSize:9, fontWeight:'bold', color:txt,
      formatter:function (v) { return onStep(v, xc.step) ? String(Math.round(v)) : ''; }}
  });
  yAxes.push({
    gridIndex:i, type:'value', min:yc.min, max:yc.max, interval:yc.interval,
    name:yc.name, nameLocation:'middle', nameGap:18, nameRotate:90,
    nameTextStyle:{fontSize:9, fontWeight:'bold', color:txt, rich:rich},
    axisLine:{show:true, onZero:false, lineStyle:{color:'#111', width:1.5}},
    axisTick:{show:true, inside:true, length:4, lineStyle:{color:'#111'}},
    minorTick:{show:true, splitNumber:yc.minor, length:2, lineStyle:{color:'#111'}},
    splitLine:{show:false},
    axisLabel:{margin:4, fontSize:9, fontWeight:'bold', color:txt,
      formatter:function (v) { return onStep(v, yc.step) ? v.toFixed(1) : ''; }}
  });
  // light horizontal gridlines
  series.push({
    type:'line', xAxisIndex:i, yAxisIndex:i, data:[], z:1, silent:true,
    markLine:{silent:true, symbol:'none', animation:false, label:{show:false},
      lineStyle:{color:'#e8e8e8', type:'solid', width:1},
      data:yc.grid.map(function (v) { return {yAxis:v}; })}
  });
  if (isSim) {
    series.push({name:'Estimated (simulation fit)', type:'scatter', xAxisIndex:i, yAxisIndex:i, z:2,
      symbolSize:5, data:p.sim, itemStyle:{color:'#7878ef', opacity:0.55}});
  } else {
    series.push({name:'Men', type:'scatter', xAxisIndex:i, yAxisIndex:i, z:2,
      symbolSize:5, data:p.men, itemStyle:{color:'#383838', opacity:0.7}});
    series.push({name:'Women', type:'scatter', xAxisIndex:i, yAxisIndex:i, z:2,
      symbolSize:5, data:p.women, itemStyle:{color:'#e5292b', opacity:0.65}});
  }
  [p.hi, p.lo].forEach(function (band) {
    series.push({type:'line', xAxisIndex:i, yAxisIndex:i, z:3, data:band, smooth:true,
      showSymbol:false, silent:true, lineStyle:{color:'#707070', width:1, type:[4,3]}});
  });
  series.push({type:'line', xAxisIndex:i, yAxisIndex:i, z:4, data:p.fit, smooth:true,
    showSymbol:false, silent:true, lineStyle:{color:isSim ? '#1414c8' : '#000', width:1.6}});

  titles.push({text:'{t|t} = 710' + (isSim ? ' ms' : ''), left:colLeft[p.c] + colWidth[p.c] / 2, top:titleTop[p.r],
    padding:0, textAlign:'center',
    textStyle:{fontSize:11, fontWeight:'bold', color:'#222',
      rich:{t:{fontStyle:'italic', fontWeight:'bold', fontSize:11, color:'#222'}}}});

  legends.push({
    left:legendLeft[p.c], top:legendTop[p.r], padding:0, orient:'horizontal',
    icon:'circle', itemWidth:7, itemHeight:7, itemGap:8, selectedMode:false,
    textStyle:{fontSize:9, fontWeight:'bold', color:txt},
    data: isSim
      ? [{name:'Estimated (simulation fit)', itemStyle:{color:'#7c7cf0', opacity:1}}]
      : [{name:'Men', itemStyle:{color:'#333', opacity:1}}, {name:'Women', itemStyle:{color:'#e5292b', opacity:1}}]
  });
});

var chart = echarts.init(document.getElementById('main'));
chart.setOption({
  animation:false,
  textStyle:{fontFamily:'Liberation Sans, Arial, sans-serif'},
  title:titles,
  legend:legends,
  grid:grids,
  xAxis:xAxes,
  yAxis:yAxes,
  series:series
});
</script>
</body>
</html>
